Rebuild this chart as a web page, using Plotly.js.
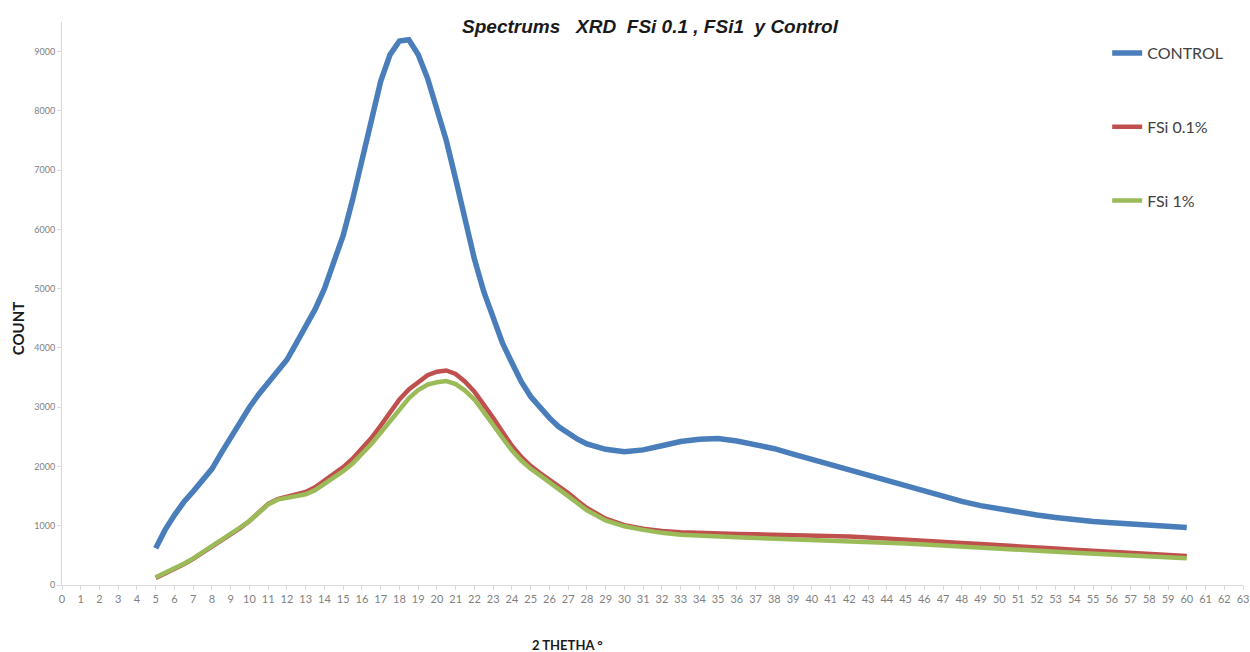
<!DOCTYPE html>
<html>
<head>
<meta charset="utf-8">
<script src="https://cdn.plot.ly/plotly-3.0.1.min.js"></script>
<style>html,body{margin:0;padding:0;background:#fff;}#chart{width:1250px;height:652px;}</style>
</head>
<body>
<div id="chart"></div>
<script>
// 2-theta positions (degrees)
const theta = [5,5.5,6,6.5,7,7.5,8,8.5,9,9.5,10,10.5,11,11.5,12,12.5,13,13.5,14,14.5,15,15.5,16,16.5,17,17.5,18,18.5,19,19.5,20,20.5,21,21.5,22,22.5,23,23.5,24,24.5,25,25.5,26,26.5,27,27.5,28,
  29,30,31,32,33,34,35,36,37,38,39,40,41,42,43,44,45,46,47,48,49,50,51,52,53,54,55,56,57,58,59,60];

const control = [620,930,1180,1400,1580,1760,1960,2230,2500,2760,3000,3220,3420,3600,3800,4080,4350,4650,5000,5420,5900,6500,7200,7900,8500,8950,9180,9200,8950,8550,8050,7500,6850,6150,5500,4950,4500,4080,3750,3430,3180,2990,2820,2670,2560,2460,2380,
  2290,2250,2280,2350,2420,2460,2470,2430,2370,2300,2210,2120,2040,1950,1850,1760,1660,1570,1490,1410,1340,1280,1230,1180,1140,1100,1070,1050,1030,1010,990,970];

const fsi01 = [120,190,270,350,440,540,640,740,850,960,1080,1230,1370,1450,1490,1520,1570,1650,1760,1870,1990,2130,2300,2480,2690,2910,3130,3300,3430,3540,3600,3620,3560,3430,3260,3050,2820,2580,2350,2160,2010,1890,1780,1660,1550,1420,1300,
  1120,1010,950,910,890,875,865,860,855,850,845,840,830,820,800,785,765,745,725,710,690,675,655,635,615,595,575,560,540,525,505,490];

const fsi1 = [130,200,280,360,450,550,650,750,860,970,1080,1230,1360,1440,1470,1500,1530,1600,1700,1800,1920,2050,2210,2380,2570,2770,2980,3150,3290,3380,3420,3440,3390,3280,3130,2930,2700,2480,2270,2100,1960,1850,1740,1620,1500,1380,1260,
  1090,990,930,880,850,830,815,805,795,785,775,765,755,745,730,715,700,685,665,650,635,620,600,580,560,545,530,510,495,480,465,450];

const seriesNames = ["CONTROL", "FSi 0.1%", "FSi 1%"];
const chartTitle = "Spectrums\u00a0\u00a0 XRD\u00a0 FSi 0.1 , FSi1\u00a0 y Control";
const xTitle = "2 THETHA \u00b0";
const yTitle = "COUNT";

const colors = ["#4a7ebb", "#c0504d", "#9bbb59"];
const ys = [control, fsi01, fsi1];
const widths = [5.5, 4.5, 4.5];

const traces = ys.map((y, i) => ({
  type: "scatter", mode: "lines", x: theta, y: y, name: seriesNames[i],
  legendgroup: "g" + i,
  line: {color: colors[i], width: widths[i]}
}));

const axisCommon = {
  showgrid: false, zeroline: false, showline: true, linecolor: "#d9d9d9", linewidth: 1,
  ticks: "outside", ticklen: 4, tickcolor: "#d9d9d9"
};

const layout = {
  width: 1250, height: 652,
  margin: {l: 62, r: 7, t: 22, b: 67},
  paper_bgcolor: "#fff", plot_bgcolor: "#fff",
  title: {text: "<b><i>" + chartTitle + "</i></b>", font: {family: "Liberation Sans, Arial, sans-serif", size: 19, color: "#1a1a1a"},
          x: 0.52, xref: "container", y: 0.96, yref: "container", xanchor: "center", yanchor: "middle"},
  xaxis: Object.assign({}, axisCommon, {range: [0, 63], tick0: 0, dtick: 1, tickfont: {family: "Lato, sans-serif", color: "#7f7f7f", size: 11}}),
  yaxis: Object.assign({}, axisCommon, {range: [0, 9500], tick0: 0, dtick: 1000, tickfont: {family: "Lato, sans-serif", color: "#7f7f7f", size: 9}}),
  showlegend: true,
  legend: {x: 0.885, y: 0.975, xanchor: "left", yanchor: "top", traceorder: "grouped", tracegroupgap: 50,
           font: {family: "Lato, sans-serif", size: 16, color: "#404040"}, bgcolor: "rgba(0,0,0,0)"},
  annotations: [
    {text: "<b>" + yTitle + "</b>", xref: "paper", yref: "paper", x: -0.0373, y: 0.456, xanchor: "center", yanchor: "middle",
     textangle: -90, showarrow: false, font: {family: "Lato, sans-serif", size: 15, color: "#1a1a1a"}},
    {text: "<b>" + xTitle + "</b>", xref: "paper", yref: "paper", x: 0.428, y: -0.1066, xanchor: "center", yanchor: "middle",
     showarrow: false, font: {family: "Lato, sans-serif", size: 13, color: "#1a1a1a"}}
  ]
};

Plotly.newPlot("chart", traces, layout, {displayModeBar: false, staticPlot: true});
</script>
</body>
</html>
